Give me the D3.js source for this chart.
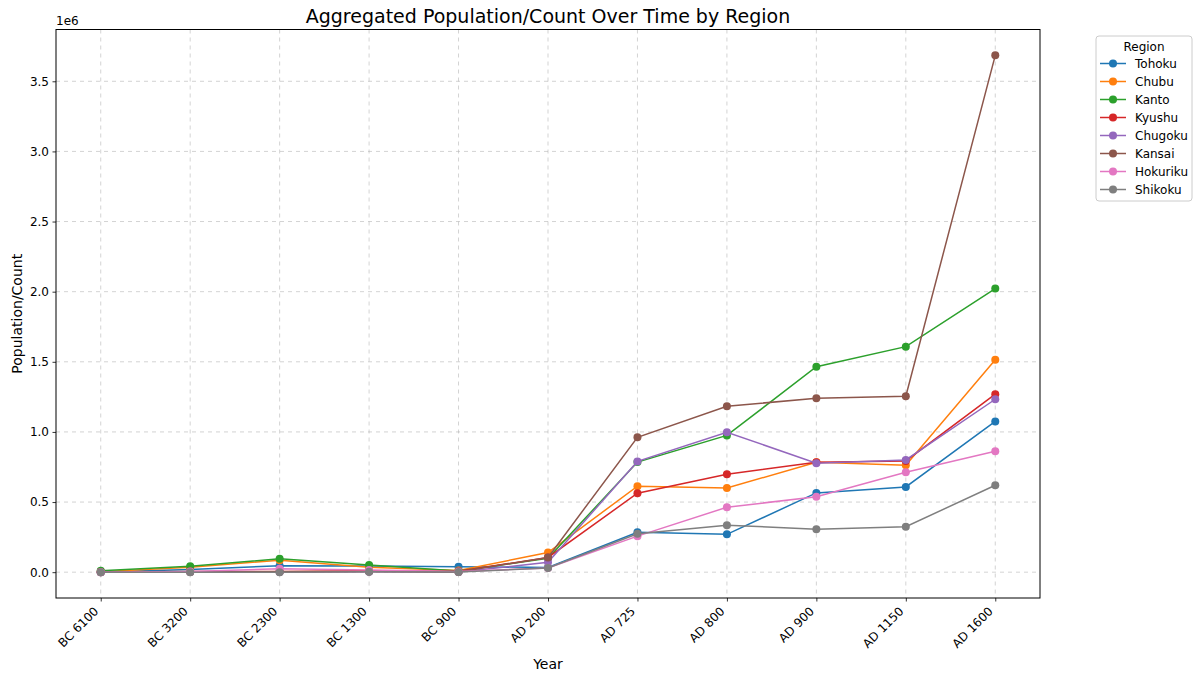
<!DOCTYPE html>
<html>
<head>
<meta charset="utf-8">
<script src="https://cdn.jsdelivr.net/npm/d3@7"></script>
<style>
  body { margin: 0; background: #fff; }
  svg, svg text { font-family: "DejaVu Sans", sans-serif; }
</style>
</head>
<body>
<div id="chart"></div>
<script>
// Data
const years = ['BC 6100', 'BC 3200', 'BC 2300', 'BC 1300', 'BC 900', 'AD 200',
               'AD 725', 'AD 800', 'AD 900', 'AD 1150', 'AD 1600'];
const regions = ['Tohoku', 'Chubu', 'Kanto', 'Kyushu', 'Chugoku', 'Kansai', 'Hokuriku', 'Shikoku'];
const colors = ['#1f77b4', '#ff7f0e', '#2ca02c', '#d62728', '#9467bd', '#8c564b', '#e377c2', '#7f7f7f'];

const tohoku   = [2000, 19200, 46700, 43800, 39500, 33400, 285000, 270000, 565000, 608000, 1075000];
const chubu    = [3000, 35000, 85000, 35000, 12000, 140000, 613000, 600000, 784000, 763000, 1515000];
const kanto    = [9700, 42800, 95400, 51600, 7700, 99000, 785000, 975000, 1465000, 1608000, 2022000];
const kyushu   = [1900, 5600, 5300, 10100, 6300, 105000, 563000, 699000, 784000, 793000, 1269000];
const chugoku  = [400, 1300, 1200, 2400, 2000, 70000, 790000, 998000, 777000, 800000, 1233000];
const kansai   = [300, 1700, 2800, 4400, 2100, 105000, 962000, 1183000, 1240000, 1255000, 3685000];
const hokuriku = [400, 4200, 24600, 15700, 5100, 30000, 257000, 463000, 538000, 713000, 863000];
const shikoku  = [200, 400, 200, 2700, 500, 30000, 274000, 335000, 307000, 324000, 620000];

const seriesValues = [tohoku, chubu, kanto, kyushu, chugoku, kansai, hokuriku, shikoku];
const yTicks = [0, 0.5e6, 1e6, 1.5e6, 2e6, 2.5e6, 3e6, 3.5e6];

const width = 1200, height = 681;
const margin = { top: 29.5, right: 160, bottom: 83, left: 56 };
const innerW = width - margin.left - margin.right;
const innerH = height - margin.top - margin.bottom;
const FONT = '"DejaVu Sans", sans-serif';

const svg = d3.select('#chart').append('svg')
    .attr('width', width)
    .attr('height', height)
    .attr('font-family', FONT);

// Scales with matplotlib-like 5% padding
const allVals = seriesValues.flat();
const yMin = d3.min(allVals), yMax = d3.max(allVals);
const pad = (yMax - yMin) * 0.05;
const y = d3.scaleLinear().domain([yMin - pad, yMax + pad]).range([innerH, 0]);

// point scale padding to match matplotlib 5% margins
const x = d3.scalePoint().domain(years).range([0, innerW])
    .padding(0.05 * (years.length - 1));

const g = svg.append('g').attr('transform', `translate(${margin.left},${margin.top})`);

// Grid
g.append('g').selectAll('line')
    .data(years).enter().append('line')
    .attr('x1', d => x(d)).attr('x2', d => x(d))
    .attr('y1', 0).attr('y2', innerH)
    .attr('stroke', '#b0b0b0').attr('stroke-opacity', 0.7)
    .attr('stroke-dasharray', '4,4').attr('stroke-width', 0.8);

g.append('g').selectAll('line')
    .data(yTicks).enter().append('line')
    .attr('x1', 0).attr('x2', innerW)
    .attr('y1', d => y(d)).attr('y2', d => y(d))
    .attr('stroke', '#b0b0b0').attr('stroke-opacity', 0.7)
    .attr('stroke-dasharray', '4,4').attr('stroke-width', 0.8);

// Lines
const line = d3.line()
    .x((d, i) => x(years[i]))
    .y(d => y(d));

seriesValues.forEach((vals, si) => {
    g.append('path')
        .datum(vals)
        .attr('fill', 'none')
        .attr('stroke', colors[si])
        .attr('stroke-width', 1.5)
        .attr('d', line);
    g.selectAll(null)
        .data(vals).enter().append('circle')
        .attr('cx', (d, i) => x(years[i]))
        .attr('cy', d => y(d))
        .attr('r', 4)
        .attr('fill', colors[si]);
});

// Axes
const xAxis = g.append('g')
    .attr('transform', `translate(0,${innerH})`)
    .call(d3.axisBottom(x).tickSize(3.5));
xAxis.selectAll('text')
    .attr('font-family', FONT)
    .attr('font-size', 12)
    .attr('fill', '#000')
    .attr('text-anchor', 'end')
    .attr('y', 0).attr('dy', 0)
    .attr('transform', 'translate(-2,14) rotate(-45)');

const yAxis = g.append('g')
    .call(d3.axisLeft(y).tickValues(yTicks).tickSize(3.5).tickPadding(3.5)
        .tickFormat(d => (d / 1e6).toFixed(1)));
yAxis.selectAll('text').attr('font-family', FONT).attr('font-size', 12).attr('fill', '#000');

[xAxis, yAxis].forEach(a => {
    a.attr('font-family', FONT);
    a.select('.domain').remove();
    a.selectAll('line').attr('stroke', '#000').attr('stroke-width', 0.8);
});

// Frame
g.append('rect')
    .attr('width', innerW).attr('height', innerH)
    .attr('fill', 'none').attr('stroke', '#000').attr('stroke-width', 1);

// Offset text
g.append('text')
    .attr('x', 0).attr('y', -5)
    .attr('font-size', 12)
    .text('1e6');

// Title and labels
svg.append('text')
    .attr('x', margin.left + innerW / 2).attr('y', 23)
    .attr('text-anchor', 'middle')
    .attr('font-size', 19)
    .text('Aggregated Population/Count Over Time by Region');

svg.append('text')
    .attr('x', margin.left + innerW / 2).attr('y', 669)
    .attr('text-anchor', 'middle')
    .attr('font-size', 14)
    .text('Year');

svg.append('text')
    .attr('transform', `translate(22,${margin.top + innerH / 2}) rotate(-90)`)
    .attr('text-anchor', 'middle')
    .attr('font-size', 14)
    .text('Population/Count');

// Legend
const legend = svg.append('g').attr('transform', 'translate(1096,36)');
legend.append('rect')
    .attr('width', 96).attr('height', 165)
    .attr('rx', 3)
    .attr('fill', '#fff').attr('stroke', '#ccc').attr('stroke-width', 1);
legend.append('text')
    .attr('x', 48).attr('y', 15)
    .attr('text-anchor', 'middle')
    .attr('font-size', 12)
    .text('Region');
regions.forEach((r, i) => {
    const ly = 27.5 + i * 18;
    legend.append('line')
        .attr('x1', 4).attr('x2', 30)
        .attr('y1', ly).attr('y2', ly)
        .attr('stroke', colors[i]).attr('stroke-width', 1.5);
    legend.append('circle')
        .attr('cx', 17).attr('cy', ly).attr('r', 4)
        .attr('fill', colors[i]);
    legend.append('text')
        .attr('x', 39).attr('y', ly + 4.5)
        .attr('font-size', 12)
        .text(r);
});
</script>
</body>
</html>
